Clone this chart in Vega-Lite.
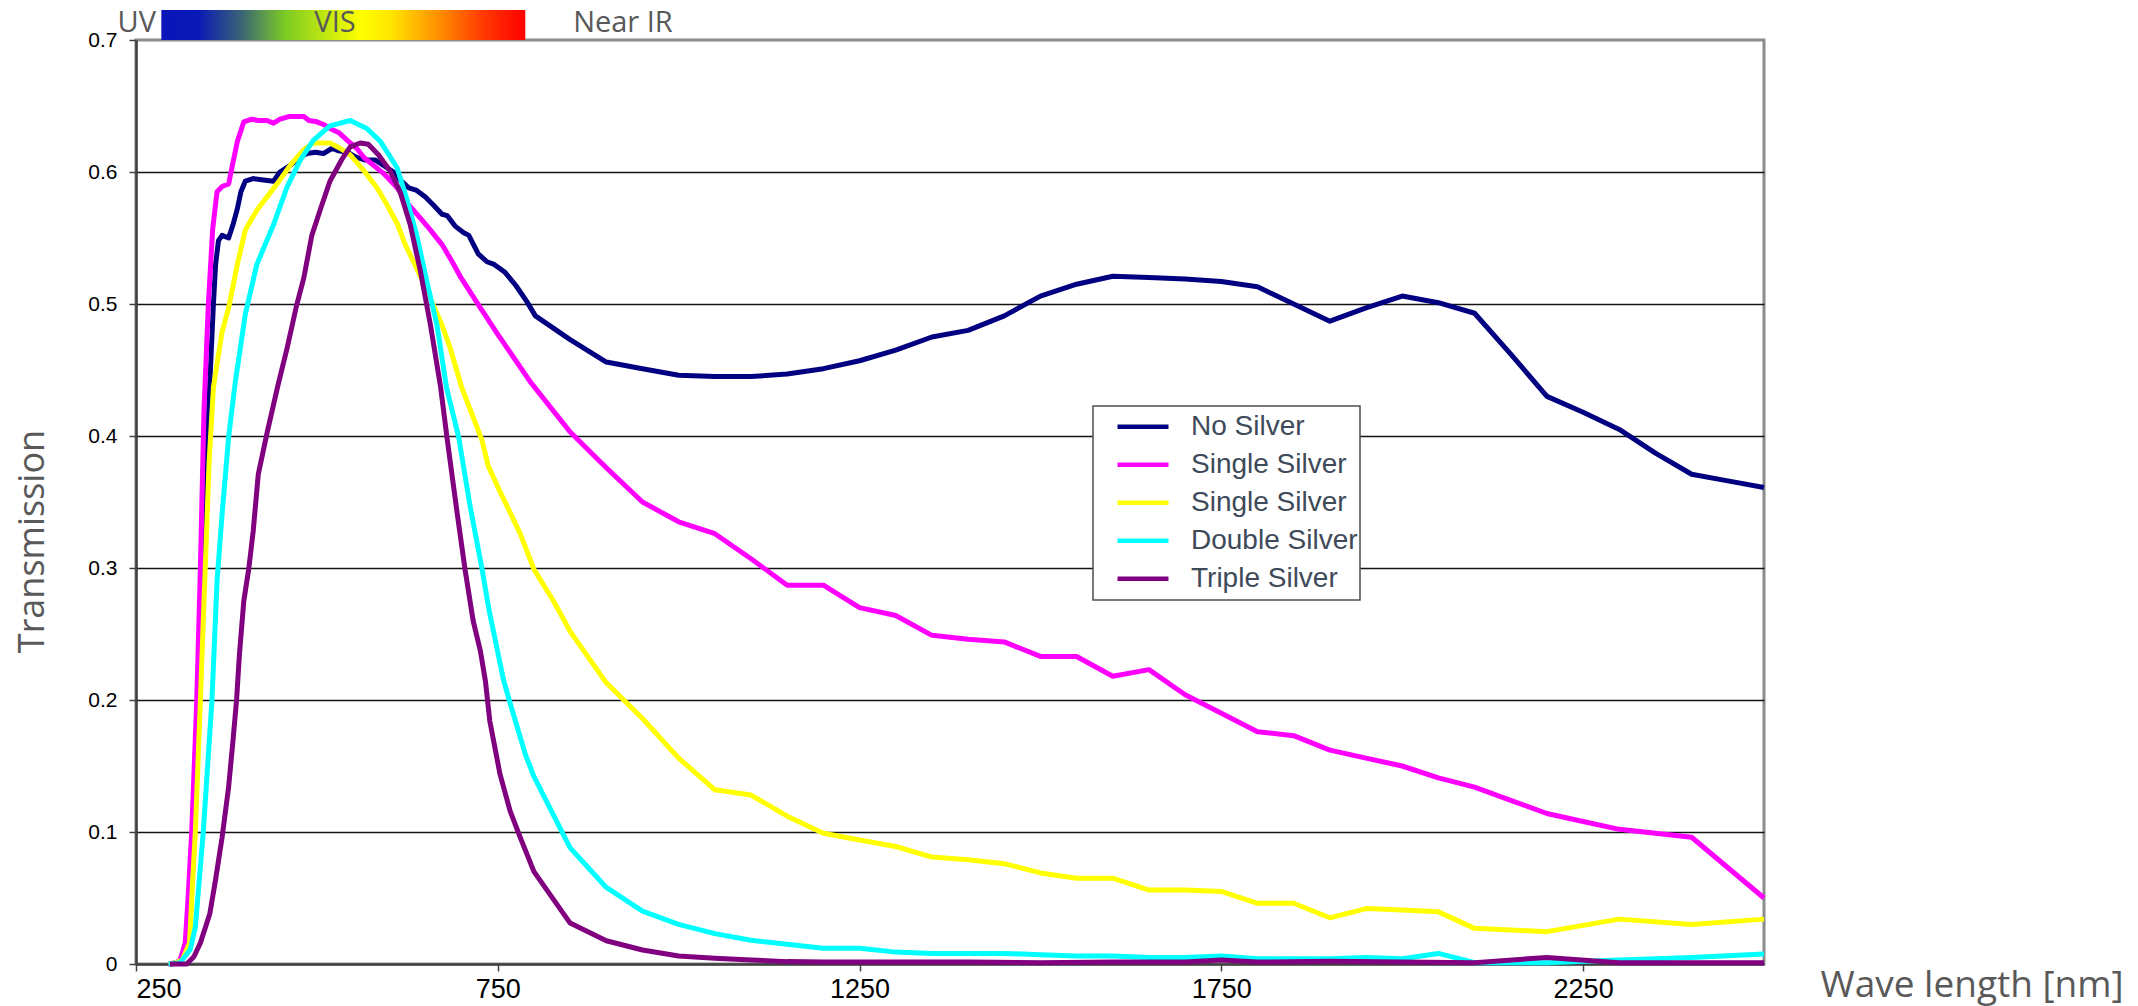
{
  "$schema": "https://vega.github.io/schema/vega-lite/v6.json",
  "width": 1628,
  "height": 924,
  "autosize": {"type": "none"},
  "padding": {"left": 136, "top": 40, "right": 374, "bottom": 42},
  "background": "white",
  "config": {
    "view": {"stroke": "#8c8c8c", "strokeWidth": 3},
    "legend": {"strokeWidth": 1.5}
  },
  "datasets": {
    "bands": [{"band": "visible", "start": 285, "end": 788}],
    "regions": [
      {"label": "UV", "nm": 251},
      {"label": "VIS", "nm": 525},
      {"label": "Near IR", "nm": 923}
    ],
    "spectra": [
      {"series":"No Silver","nm":295,"T":0},{"series":"No Silver","nm":300,"T":0},{"series":"No Silver","nm":310,"T":0.002},{"series":"No Silver","nm":320,"T":0.01},{"series":"No Silver","nm":327,"T":0.06},{"series":"No Silver","nm":333,"T":0.15},{"series":"No Silver","nm":340,"T":0.26},{"series":"No Silver","nm":346,"T":0.36},{"series":"No Silver","nm":352,"T":0.44},{"series":"No Silver","nm":357,"T":0.5},{"series":"No Silver","nm":360,"T":0.53},{"series":"No Silver","nm":364,"T":0.548},{"series":"No Silver","nm":369,"T":0.552},{"series":"No Silver","nm":378,"T":0.55},{"series":"No Silver","nm":384,"T":0.56},{"series":"No Silver","nm":390,"T":0.572},{"series":"No Silver","nm":395,"T":0.585},{"series":"No Silver","nm":401,"T":0.593},{"series":"No Silver","nm":412,"T":0.595},{"series":"No Silver","nm":426,"T":0.594},{"series":"No Silver","nm":440,"T":0.593},{"series":"No Silver","nm":449,"T":0.6},{"series":"No Silver","nm":463,"T":0.605},{"series":"No Silver","nm":477,"T":0.611},{"series":"No Silver","nm":486,"T":0.614},{"series":"No Silver","nm":498,"T":0.615},{"series":"No Silver","nm":509,"T":0.614},{"series":"No Silver","nm":521,"T":0.618},{"series":"No Silver","nm":530,"T":0.616},{"series":"No Silver","nm":542,"T":0.615},{"series":"No Silver","nm":555,"T":0.611},{"series":"No Silver","nm":567,"T":0.609},{"series":"No Silver","nm":581,"T":0.609},{"series":"No Silver","nm":592,"T":0.605},{"series":"No Silver","nm":606,"T":0.6},{"series":"No Silver","nm":615,"T":0.594},{"series":"No Silver","nm":627,"T":0.588},{"series":"No Silver","nm":638,"T":0.586},{"series":"No Silver","nm":650,"T":0.581},{"series":"No Silver","nm":661,"T":0.575},{"series":"No Silver","nm":673,"T":0.568},{"series":"No Silver","nm":680,"T":0.567},{"series":"No Silver","nm":691,"T":0.559},{"series":"No Silver","nm":703,"T":0.554},{"series":"No Silver","nm":710,"T":0.552},{"series":"No Silver","nm":723,"T":0.538},{"series":"No Silver","nm":735,"T":0.532},{"series":"No Silver","nm":745,"T":0.53},{"series":"No Silver","nm":760,"T":0.524},{"series":"No Silver","nm":775,"T":0.514},{"series":"No Silver","nm":790,"T":0.502},{"series":"No Silver","nm":802,"T":0.491},{"series":"No Silver","nm":850,"T":0.473},{"series":"No Silver","nm":900,"T":0.456},{"series":"No Silver","nm":950,"T":0.451},{"series":"No Silver","nm":1000,"T":0.446},{"series":"No Silver","nm":1050,"T":0.445},{"series":"No Silver","nm":1100,"T":0.445},{"series":"No Silver","nm":1150,"T":0.447},{"series":"No Silver","nm":1200,"T":0.451},{"series":"No Silver","nm":1250,"T":0.457},{"series":"No Silver","nm":1300,"T":0.465},{"series":"No Silver","nm":1350,"T":0.475},{"series":"No Silver","nm":1400,"T":0.48},{"series":"No Silver","nm":1450,"T":0.491},{"series":"No Silver","nm":1500,"T":0.506},{"series":"No Silver","nm":1550,"T":0.515},{"series":"No Silver","nm":1600,"T":0.521},{"series":"No Silver","nm":1650,"T":0.52},{"series":"No Silver","nm":1700,"T":0.519},{"series":"No Silver","nm":1750,"T":0.517},{"series":"No Silver","nm":1800,"T":0.513},{"series":"No Silver","nm":1850,"T":0.5},{"series":"No Silver","nm":1900,"T":0.487},{"series":"No Silver","nm":1950,"T":0.497},{"series":"No Silver","nm":2000,"T":0.506},{"series":"No Silver","nm":2050,"T":0.501},{"series":"No Silver","nm":2100,"T":0.493},{"series":"No Silver","nm":2150,"T":0.462},{"series":"No Silver","nm":2200,"T":0.43},{"series":"No Silver","nm":2250,"T":0.418},{"series":"No Silver","nm":2300,"T":0.405},{"series":"No Silver","nm":2350,"T":0.387},{"series":"No Silver","nm":2400,"T":0.371},{"series":"No Silver","nm":2450,"T":0.366},{"series":"No Silver","nm":2500,"T":0.361},
      {"series":"Single Silver","nm":295,"T":0},{"series":"Single Silver","nm":305,"T":0.001},{"series":"Single Silver","nm":311,"T":0.003},{"series":"Single Silver","nm":318,"T":0.016},{"series":"Single Silver","nm":322,"T":0.05},{"series":"Single Silver","nm":327,"T":0.1},{"series":"Single Silver","nm":334,"T":0.2},{"series":"Single Silver","nm":339,"T":0.3},{"series":"Single Silver","nm":344,"T":0.42},{"series":"Single Silver","nm":350,"T":0.5},{"series":"Single Silver","nm":356,"T":0.557},{"series":"Single Silver","nm":362,"T":0.585},{"series":"Single Silver","nm":369,"T":0.589},{"series":"Single Silver","nm":378,"T":0.591},{"series":"Single Silver","nm":381,"T":0.599},{"series":"Single Silver","nm":390,"T":0.623},{"series":"Single Silver","nm":399,"T":0.638},{"series":"Single Silver","nm":410,"T":0.64},{"series":"Single Silver","nm":419,"T":0.639},{"series":"Single Silver","nm":431,"T":0.639},{"series":"Single Silver","nm":440,"T":0.637},{"series":"Single Silver","nm":449,"T":0.64},{"series":"Single Silver","nm":461,"T":0.642},{"series":"Single Silver","nm":482,"T":0.642},{"series":"Single Silver","nm":489,"T":0.639},{"series":"Single Silver","nm":500,"T":0.638},{"series":"Single Silver","nm":509,"T":0.636},{"series":"Single Silver","nm":518,"T":0.633},{"series":"Single Silver","nm":530,"T":0.63},{"series":"Single Silver","nm":542,"T":0.624},{"series":"Single Silver","nm":555,"T":0.618},{"series":"Single Silver","nm":565,"T":0.611},{"series":"Single Silver","nm":592,"T":0.599},{"series":"Single Silver","nm":611,"T":0.588},{"series":"Single Silver","nm":624,"T":0.577},{"series":"Single Silver","nm":643,"T":0.565},{"series":"Single Silver","nm":657,"T":0.556},{"series":"Single Silver","nm":673,"T":0.545},{"series":"Single Silver","nm":687,"T":0.532},{"series":"Single Silver","nm":698,"T":0.521},{"series":"Single Silver","nm":726,"T":0.497},{"series":"Single Silver","nm":750,"T":0.477},{"series":"Single Silver","nm":795,"T":0.441},{"series":"Single Silver","nm":850,"T":0.403},{"series":"Single Silver","nm":900,"T":0.376},{"series":"Single Silver","nm":950,"T":0.35},{"series":"Single Silver","nm":1000,"T":0.335},{"series":"Single Silver","nm":1050,"T":0.326},{"series":"Single Silver","nm":1100,"T":0.307},{"series":"Single Silver","nm":1150,"T":0.287},{"series":"Single Silver","nm":1200,"T":0.287},{"series":"Single Silver","nm":1250,"T":0.27},{"series":"Single Silver","nm":1300,"T":0.264},{"series":"Single Silver","nm":1350,"T":0.249},{"series":"Single Silver","nm":1400,"T":0.246},{"series":"Single Silver","nm":1450,"T":0.244},{"series":"Single Silver","nm":1500,"T":0.233},{"series":"Single Silver","nm":1550,"T":0.233},{"series":"Single Silver","nm":1600,"T":0.218},{"series":"Single Silver","nm":1650,"T":0.223},{"series":"Single Silver","nm":1700,"T":0.204},{"series":"Single Silver","nm":1750,"T":0.19},{"series":"Single Silver","nm":1800,"T":0.176},{"series":"Single Silver","nm":1850,"T":0.173},{"series":"Single Silver","nm":1900,"T":0.162},{"series":"Single Silver","nm":1950,"T":0.156},{"series":"Single Silver","nm":2000,"T":0.15},{"series":"Single Silver","nm":2050,"T":0.141},{"series":"Single Silver","nm":2100,"T":0.134},{"series":"Single Silver","nm":2150,"T":0.124},{"series":"Single Silver","nm":2200,"T":0.114},{"series":"Single Silver","nm":2250,"T":0.108},{"series":"Single Silver","nm":2300,"T":0.102},{"series":"Single Silver","nm":2350,"T":0.099},{"series":"Single Silver","nm":2400,"T":0.096},{"series":"Single Silver","nm":2500,"T":0.05},
      {"series":"Single Silver 2","nm":295,"T":0},{"series":"Single Silver 2","nm":305,"T":0.001},{"series":"Single Silver 2","nm":314,"T":0.003},{"series":"Single Silver 2","nm":324,"T":0.016},{"series":"Single Silver 2","nm":328,"T":0.06},{"series":"Single Silver 2","nm":332,"T":0.1},{"series":"Single Silver 2","nm":339,"T":0.2},{"series":"Single Silver 2","nm":346,"T":0.305},{"series":"Single Silver 2","nm":351,"T":0.38},{"series":"Single Silver 2","nm":357,"T":0.437},{"series":"Single Silver 2","nm":369,"T":0.479},{"series":"Single Silver 2","nm":378,"T":0.497},{"series":"Single Silver 2","nm":390,"T":0.53},{"series":"Single Silver 2","nm":401,"T":0.556},{"series":"Single Silver 2","nm":417,"T":0.571},{"series":"Single Silver 2","nm":435,"T":0.584},{"series":"Single Silver 2","nm":449,"T":0.594},{"series":"Single Silver 2","nm":463,"T":0.605},{"series":"Single Silver 2","nm":482,"T":0.617},{"series":"Single Silver 2","nm":495,"T":0.622},{"series":"Single Silver 2","nm":518,"T":0.622},{"series":"Single Silver 2","nm":532,"T":0.618},{"series":"Single Silver 2","nm":546,"T":0.613},{"series":"Single Silver 2","nm":565,"T":0.601},{"series":"Single Silver 2","nm":583,"T":0.588},{"series":"Single Silver 2","nm":597,"T":0.575},{"series":"Single Silver 2","nm":611,"T":0.561},{"series":"Single Silver 2","nm":622,"T":0.545},{"series":"Single Silver 2","nm":638,"T":0.527},{"series":"Single Silver 2","nm":657,"T":0.504},{"series":"Single Silver 2","nm":673,"T":0.484},{"series":"Single Silver 2","nm":684,"T":0.467},{"series":"Single Silver 2","nm":700,"T":0.437},{"series":"Single Silver 2","nm":728,"T":0.397},{"series":"Single Silver 2","nm":737,"T":0.377},{"series":"Single Silver 2","nm":753,"T":0.358},{"series":"Single Silver 2","nm":781,"T":0.326},{"series":"Single Silver 2","nm":800,"T":0.299},{"series":"Single Silver 2","nm":827,"T":0.275},{"series":"Single Silver 2","nm":850,"T":0.252},{"series":"Single Silver 2","nm":900,"T":0.213},{"series":"Single Silver 2","nm":950,"T":0.186},{"series":"Single Silver 2","nm":1000,"T":0.156},{"series":"Single Silver 2","nm":1050,"T":0.132},{"series":"Single Silver 2","nm":1100,"T":0.128},{"series":"Single Silver 2","nm":1150,"T":0.112},{"series":"Single Silver 2","nm":1200,"T":0.099},{"series":"Single Silver 2","nm":1250,"T":0.094},{"series":"Single Silver 2","nm":1300,"T":0.089},{"series":"Single Silver 2","nm":1350,"T":0.081},{"series":"Single Silver 2","nm":1400,"T":0.079},{"series":"Single Silver 2","nm":1450,"T":0.076},{"series":"Single Silver 2","nm":1500,"T":0.069},{"series":"Single Silver 2","nm":1550,"T":0.065},{"series":"Single Silver 2","nm":1600,"T":0.065},{"series":"Single Silver 2","nm":1650,"T":0.056},{"series":"Single Silver 2","nm":1700,"T":0.056},{"series":"Single Silver 2","nm":1750,"T":0.055},{"series":"Single Silver 2","nm":1800,"T":0.046},{"series":"Single Silver 2","nm":1850,"T":0.046},{"series":"Single Silver 2","nm":1900,"T":0.035},{"series":"Single Silver 2","nm":1950,"T":0.042},{"series":"Single Silver 2","nm":2000,"T":0.041},{"series":"Single Silver 2","nm":2050,"T":0.0395},{"series":"Single Silver 2","nm":2100,"T":0.027},{"series":"Single Silver 2","nm":2200,"T":0.0245},{"series":"Single Silver 2","nm":2300,"T":0.034},{"series":"Single Silver 2","nm":2400,"T":0.03},{"series":"Single Silver 2","nm":2500,"T":0.034},
      {"series":"Double Silver","nm":295,"T":0},{"series":"Double Silver","nm":311,"T":0.001},{"series":"Double Silver","nm":325,"T":0.011},{"series":"Double Silver","nm":332,"T":0.028},{"series":"Double Silver","nm":343,"T":0.1},{"series":"Double Silver","nm":355,"T":0.2},{"series":"Double Silver","nm":362,"T":0.29},{"series":"Double Silver","nm":369,"T":0.341},{"series":"Double Silver","nm":378,"T":0.399},{"series":"Double Silver","nm":387,"T":0.44},{"series":"Double Silver","nm":401,"T":0.492},{"series":"Double Silver","nm":417,"T":0.53},{"series":"Double Silver","nm":440,"T":0.56},{"series":"Double Silver","nm":459,"T":0.589},{"series":"Double Silver","nm":477,"T":0.609},{"series":"Double Silver","nm":495,"T":0.624},{"series":"Double Silver","nm":518,"T":0.635},{"series":"Double Silver","nm":546,"T":0.639},{"series":"Double Silver","nm":569,"T":0.633},{"series":"Double Silver","nm":588,"T":0.623},{"series":"Double Silver","nm":611,"T":0.603},{"series":"Double Silver","nm":624,"T":0.58},{"series":"Double Silver","nm":638,"T":0.552},{"series":"Double Silver","nm":652,"T":0.517},{"series":"Double Silver","nm":666,"T":0.484},{"series":"Double Silver","nm":679,"T":0.437},{"series":"Double Silver","nm":696,"T":0.399},{"series":"Double Silver","nm":712,"T":0.346},{"series":"Double Silver","nm":728,"T":0.3},{"series":"Double Silver","nm":738,"T":0.268},{"series":"Double Silver","nm":758,"T":0.215},{"series":"Double Silver","nm":770,"T":0.192},{"series":"Double Silver","nm":788,"T":0.159},{"series":"Double Silver","nm":800,"T":0.142},{"series":"Double Silver","nm":850,"T":0.088},{"series":"Double Silver","nm":900,"T":0.058},{"series":"Double Silver","nm":950,"T":0.04},{"series":"Double Silver","nm":1000,"T":0.03},{"series":"Double Silver","nm":1050,"T":0.023},{"series":"Double Silver","nm":1100,"T":0.018},{"series":"Double Silver","nm":1150,"T":0.015},{"series":"Double Silver","nm":1200,"T":0.012},{"series":"Double Silver","nm":1250,"T":0.012},{"series":"Double Silver","nm":1300,"T":0.009},{"series":"Double Silver","nm":1350,"T":0.008},{"series":"Double Silver","nm":1400,"T":0.008},{"series":"Double Silver","nm":1450,"T":0.008},{"series":"Double Silver","nm":1500,"T":0.007},{"series":"Double Silver","nm":1550,"T":0.006},{"series":"Double Silver","nm":1600,"T":0.006},{"series":"Double Silver","nm":1650,"T":0.005},{"series":"Double Silver","nm":1700,"T":0.005},{"series":"Double Silver","nm":1750,"T":0.006},{"series":"Double Silver","nm":1800,"T":0.004},{"series":"Double Silver","nm":1850,"T":0.004},{"series":"Double Silver","nm":1900,"T":0.004},{"series":"Double Silver","nm":1950,"T":0.005},{"series":"Double Silver","nm":2000,"T":0.004},{"series":"Double Silver","nm":2050,"T":0.008},{"series":"Double Silver","nm":2100,"T":0.001},{"series":"Double Silver","nm":2200,"T":0.001},{"series":"Double Silver","nm":2300,"T":0.003},{"series":"Double Silver","nm":2400,"T":0.005},{"series":"Double Silver","nm":2500,"T":0.0075},
      {"series":"Triple Silver","nm":297,"T":0},{"series":"Triple Silver","nm":320,"T":0},{"series":"Triple Silver","nm":330,"T":0.0055},{"series":"Triple Silver","nm":339,"T":0.016},{"series":"Triple Silver","nm":352,"T":0.038},{"series":"Triple Silver","nm":360,"T":0.064},{"series":"Triple Silver","nm":369,"T":0.096},{"series":"Triple Silver","nm":378,"T":0.134},{"series":"Triple Silver","nm":384,"T":0.169},{"series":"Triple Silver","nm":389,"T":0.2},{"series":"Triple Silver","nm":393,"T":0.235},{"series":"Triple Silver","nm":399,"T":0.275},{"series":"Triple Silver","nm":406,"T":0.3},{"series":"Triple Silver","nm":412,"T":0.328},{"series":"Triple Silver","nm":419,"T":0.371},{"series":"Triple Silver","nm":431,"T":0.402},{"series":"Triple Silver","nm":446,"T":0.438},{"series":"Triple Silver","nm":459,"T":0.467},{"series":"Triple Silver","nm":472,"T":0.499},{"series":"Triple Silver","nm":482,"T":0.52},{"series":"Triple Silver","nm":493,"T":0.552},{"series":"Triple Silver","nm":505,"T":0.572},{"series":"Triple Silver","nm":518,"T":0.593},{"series":"Triple Silver","nm":535,"T":0.61},{"series":"Triple Silver","nm":546,"T":0.619},{"series":"Triple Silver","nm":560,"T":0.622},{"series":"Triple Silver","nm":571,"T":0.621},{"series":"Triple Silver","nm":585,"T":0.613},{"series":"Triple Silver","nm":601,"T":0.601},{"series":"Triple Silver","nm":615,"T":0.585},{"series":"Triple Silver","nm":629,"T":0.56},{"series":"Triple Silver","nm":643,"T":0.525},{"series":"Triple Silver","nm":657,"T":0.484},{"series":"Triple Silver","nm":671,"T":0.437},{"series":"Triple Silver","nm":680,"T":0.398},{"series":"Triple Silver","nm":694,"T":0.341},{"series":"Triple Silver","nm":705,"T":0.298},{"series":"Triple Silver","nm":716,"T":0.26},{"series":"Triple Silver","nm":726,"T":0.237},{"series":"Triple Silver","nm":733,"T":0.214},{"series":"Triple Silver","nm":739,"T":0.184},{"series":"Triple Silver","nm":753,"T":0.144},{"series":"Triple Silver","nm":767,"T":0.116},{"series":"Triple Silver","nm":781,"T":0.096},{"series":"Triple Silver","nm":800,"T":0.07},{"series":"Triple Silver","nm":850,"T":0.031},{"series":"Triple Silver","nm":900,"T":0.0176},{"series":"Triple Silver","nm":950,"T":0.0106},{"series":"Triple Silver","nm":1000,"T":0.006},{"series":"Triple Silver","nm":1050,"T":0.0043},{"series":"Triple Silver","nm":1100,"T":0.003},{"series":"Triple Silver","nm":1150,"T":0.0018},{"series":"Triple Silver","nm":1200,"T":0.0015},{"series":"Triple Silver","nm":1300,"T":0.0015},{"series":"Triple Silver","nm":1400,"T":0.0015},{"series":"Triple Silver","nm":1500,"T":0.001},{"series":"Triple Silver","nm":1600,"T":0.0015},{"series":"Triple Silver","nm":1700,"T":0.0015},{"series":"Triple Silver","nm":1750,"T":0.003},{"series":"Triple Silver","nm":1800,"T":0.0015},{"series":"Triple Silver","nm":1900,"T":0.002},{"series":"Triple Silver","nm":2000,"T":0.0015},{"series":"Triple Silver","nm":2100,"T":0.001},{"series":"Triple Silver","nm":2200,"T":0.005},{"series":"Triple Silver","nm":2300,"T":0.001},{"series":"Triple Silver","nm":2400,"T":0.001},{"series":"Triple Silver","nm":2500,"T":0.001}
    ]
  },
  "layer": [
    {
      "data": {"name": "spectra"},
      "mark": {"type": "line", "strokeWidth": 5, "strokeJoin": "round"},
      "encoding": {
        "x": {
          "field": "nm", "type": "quantitative",
          "title": "Wave length [nm]",
          "scale": {"domain": [250, 2500], "nice": false, "zero": false},
          "axis": {
            "values": [250, 750, 1250, 1750, 2250],
            "format": "d",
            "grid": false,
            "labelFont": "Liberation Sans", "labelFontSize": 27, "labelColor": "#000000",
            "labelPadding": 5,
            "domainColor": "#404040", "domainWidth": 2.5,
            "tickColor": "#404040", "tickWidth": 1.5, "tickSize": 7,
            "titleFont": "Open Sans", "titleFontSize": 37, "titleFontWeight": "normal", "titleColor": "#595959",
            "titleX": 1684, "titleY": 32, "titleAlign": "left", "titleBaseline": "alphabetic", "titleAnchor": "start"
          }
        },
        "y": {
          "field": "T", "type": "quantitative",
          "title": "Transmission",
          "scale": {"domain": [0, 0.7], "nice": false, "zero": true},
          "axis": {
            "values": [0, 0.1, 0.2, 0.3, 0.4, 0.5, 0.6, 0.7],
            "format": ".1~f",
            "grid": true, "gridColor": "#141414", "gridWidth": 1.4,
            "gridOpacity": {"condition": {"test": "datum.value < 0.05 || datum.value > 0.65", "value": 0}, "value": 1},
            "labelFont": "Liberation Sans", "labelFontSize": 21, "labelColor": "#000000",
            "labelPadding": 12,
            "domainColor": "#404040", "domainWidth": 2.5,
            "tickColor": "#404040", "tickWidth": 1.5, "tickSize": 7,
            "titleFont": "Open Sans", "titleFontSize": 36, "titleFontWeight": "normal", "titleColor": "#595959",
            "titleAngle": -90, "titleX": -93, "titleY": 501, "titleAlign": "center", "titleBaseline": "alphabetic"
          }
        },
        "color": {
          "field": "series", "type": "nominal",
          "scale": {
            "domain": ["No Silver", "Single Silver", "Single Silver 2", "Double Silver", "Triple Silver"],
            "range": ["#000080", "#ff00ff", "#ffff00", "#00ffff", "#800080"]
          },
          "legend": {
            "title": null,
            "orient": "none", "legendX": 957, "legendY": 366,
            "labelExpr": "datum.label == 'Single Silver 2' ? 'Single Silver' : datum.label",
            "symbolType": "stroke", "symbolSize": 2600, "symbolStrokeWidth": 4.5,
            "labelFont": "Liberation Sans", "labelFontSize": 28, "labelColor": "#3e4a59", "labelLimit": 400,
            "fillColor": "#ffffff", "strokeColor": "#4d4d4d",
            "padding": 2, "symbolOffset": 20, "labelOffset": 20,
            "clipHeight": 37.5, "rowPadding": 0
          }
        }
      }
    },
    {
      "data": {"name": "bands"},
      "mark": {
        "type": "rect",
        "fill": {
          "gradient": "linear", "x1": 0, "y1": 0, "x2": 1, "y2": 0,
          "stops": [
            {"offset": 0, "color": "#0a16b8"},
            {"offset": 0.1, "color": "#0a18b8"},
            {"offset": 0.22, "color": "#3a6476"},
            {"offset": 0.34, "color": "#7ccb24"},
            {"offset": 0.45, "color": "#c0e810"},
            {"offset": 0.55, "color": "#ffff00"},
            {"offset": 0.63, "color": "#ffe600"},
            {"offset": 0.77, "color": "#ff8a00"},
            {"offset": 0.88, "color": "#ff3c00"},
            {"offset": 1, "color": "#ff0000"}
          ]
        }
      },
      "encoding": {
        "x": {"field": "start", "type": "quantitative", "title": "Wave length [nm]"},
        "x2": {"field": "end"},
        "y": {"datum": 0.7, "type": "quantitative", "title": "Transmission"},
        "y2": {"datum": 0.72273}
      }
    },
    {
      "data": {"name": "regions"},
      "mark": {"type": "text", "font": "Open Sans", "fontSize": 29, "color": "#595959", "align": "center", "baseline": "alphabetic"},
      "encoding": {
        "x": {"field": "nm", "type": "quantitative", "title": "Wave length [nm]"},
        "y": {"datum": 0.7058, "type": "quantitative", "title": "Transmission"},
        "text": {"field": "label"}
      }
    }
  ]
}
